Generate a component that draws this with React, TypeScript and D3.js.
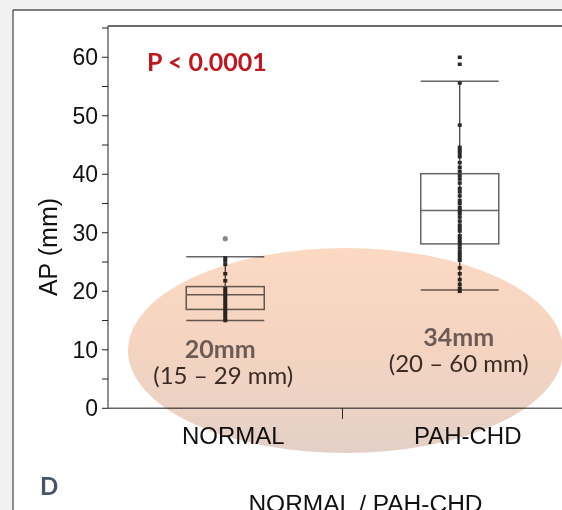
import { scaleBand, scaleLinear, range } from "d3";

const groups = ["NORMAL", "PAH-CHD"];
const lowerWhisker = [15, 20.2];
const q1 = [16.9, 28.1];
const median = [19.4, 33.8];
const q3 = [20.8, 40.1];
const upperWhisker = [25.9, 55.9];

const normalPoints = [
  15, 15.5, 16, 16.5, 17, 17.5, 18, 18.5, 19, 19.5, 20, 20.5, 21.8, 23, 24.6, 25.2, 25.7,
];
const pahPoints = [
  20, 20.5, 21.2, 22, 23, 24, 25.3, 25.8, 26.3, 26.8, 27.4, 28, 28.5, 29, 29.5, 30.3,
  30.8, 31.3, 32, 32.7, 33.3, 33.8, 34.3, 35, 35.5, 36.3, 37, 37.6, 38.5, 39.2, 39.8,
  40.5, 41.2, 42, 43, 43.6, 44.1, 44.6, 48.4, 55.6,
];
const outlierNormal = [29];
const outlierPah = [58.8, 60];

const medianLabels = ["20mm", "34mm"];
const rangeLabels = ["(15 – 29 mm)", "(20 – 60 mm)"];
const yMajor = [0, 10, 20, 30, 40, 50, 60];

const W = 562;
const H = 510;

export default function App() {
  const x = scaleBand<string>().domain(groups).range([108, 577]).padding(0);
  const y = scaleLinear().domain([0, 65]).range([408.3, 28]);
  const cx = (g: string) => (x(g) as number) + x.bandwidth() / 2;
  const half = 39;
  const minor = range(0, 66, 5);
  const arial = "'Liberation Sans', Arial, sans-serif";
  const calibri = "Lato, 'Open Sans', sans-serif";
  const pts = [normalPoints, pahPoints];

  return (
    <svg
      width={W}
      height={H}
      style={{ position: "absolute", left: 0, top: 0 }}
      fontFamily={arial}
    >
      <defs>
        <linearGradient id="blob" x1="0" y1="0" x2="0" y2="1">
          <stop offset="0%" stopColor="#fbd9c3" />
          <stop offset="50%" stopColor="#f4d4c1" />
          <stop offset="100%" stopColor="#e4d0c7" />
        </linearGradient>
      </defs>
      <rect width={W} height={H} fill="#f1f1f1" />
      <rect x={13} y={10} width={W} height={H} fill="#ffffff" />
      <line x1={13} x2={W} y1={10} y2={10} stroke="#555" strokeWidth={1.5} />
      <line x1={13} x2={13} y1={10} y2={H} stroke="#444" strokeWidth={1.2} />

      {/* top border */}
      <line x1={108} x2={W} y1={26} y2={26} stroke="#6b6b6b" strokeWidth={2} />
      {/* y axis */}
      <line x1={108} x2={108} y1={26} y2={408.3} stroke="#222" strokeWidth={1} />
      {minor.map((v) => (
        <line key={v} x1={102} x2={108} y1={y(v)} y2={y(v)} stroke="#222" />
      ))}
      {yMajor.map((v) => (
        <text
          key={v}
          x={98}
          y={y(v)}
          textAnchor="end"
          dominantBaseline="central"
          fontSize={23}
          fill="#111"
        >
          {v}
        </text>
      ))}
      <text
        transform="translate(47.5,247) rotate(-90)"
        textAnchor="middle"
        dominantBaseline="central"
        fontSize={25}
        fill="#111"
      >
        AP (mm)
      </text>

      {/* x axis */}
      <line x1={108} x2={W} y1={408.3} y2={408.3} stroke="#666" strokeWidth={1.5} />
      <line
        x1={x("PAH-CHD") as number}
        x2={x("PAH-CHD") as number}
        y1={408}
        y2={419}
        stroke="#333"
      />
      {groups.map((g) => (
        <text key={g} x={cx(g) + 8} y={444} textAnchor="middle" fontSize={24} fill="#111">
          {g}
        </text>
      ))}

      {/* boxes */}
      {groups.map((g, i) => {
        const c = cx(g);
        return (
          <g key={g}>
            <line x1={c} x2={c} y1={y(lowerWhisker[i])} y2={y(upperWhisker[i])} stroke="#333" strokeWidth={1.2} />
            <rect
              x={c - half}
              y={y(q3[i])}
              width={half * 2}
              height={y(q1[i]) - y(q3[i])}
              fill="none"
              stroke="#666"
              strokeWidth={1.5}
            />
            <line x1={c - half} x2={c + half} y1={y(median[i])} y2={y(median[i])} stroke="#666" strokeWidth={1.5} />
            <line x1={c - half} x2={c + half} y1={y(upperWhisker[i])} y2={y(upperWhisker[i])} stroke="#666" strokeWidth={1.5} />
            <line x1={c - half} x2={c + half} y1={y(lowerWhisker[i])} y2={y(lowerWhisker[i])} stroke="#666" strokeWidth={1.5} />
            {pts[i].map((v, j) => (
              <rect key={j} x={c - 2} y={y(v) - 1.75} width={4} height={3.5} fill="#2a2a2a" />
            ))}
          </g>
        );
      })}
      {outlierNormal.map((v, j) => (
        <circle key={j} cx={cx("NORMAL")} cy={y(v)} r={2.6} fill="#888" />
      ))}
      {outlierPah.map((v, j) => (
        <rect key={j} x={cx("PAH-CHD") - 2} y={y(v) - 1.75} width={4} height={3.5} fill="#2a2a2a" />
      ))}

      {/* overlay */}
      <ellipse
        cx={345.5}
        cy={350.5}
        rx={217.5}
        ry={102.5}
        fill="url(#blob)"
        style={{ mixBlendMode: "multiply" }}
      />

      {groups.map((g, i) => (
        <g key={g} fontFamily={calibri}>
          <text
            x={cx(g) + (i === 0 ? -5 : -1)}
            y={i === 0 ? 358 : 346}
            textAnchor="middle"
            fontSize={25}
            fontWeight="bold"
            fill="#6c5b56"
          >
            {medianLabels[i]}
          </text>
          <text
            x={cx(g) + (i === 0 ? -2 : -1)}
            y={i === 0 ? 384 : 372}
            textAnchor="middle"
            fontSize={24}
            fill="#3a2a24"
          >
            {rangeLabels[i]}
          </text>
        </g>
      ))}

      <text x={147} y={71} fontFamily={calibri} fontSize={25} fontWeight="bold" fill="#c0161e">
        P &lt; 0.0001
      </text>
      <text x={40} y={495} fontFamily={calibri} fontSize={24} fontWeight="bold" fill="#44546a">
        D
      </text>
      <text x={365.5} y={511.5} textAnchor="middle" fontSize={24.5} fill="#111">
        NORMAL / PAH-CHD
      </text>
    </svg>
  );
}
